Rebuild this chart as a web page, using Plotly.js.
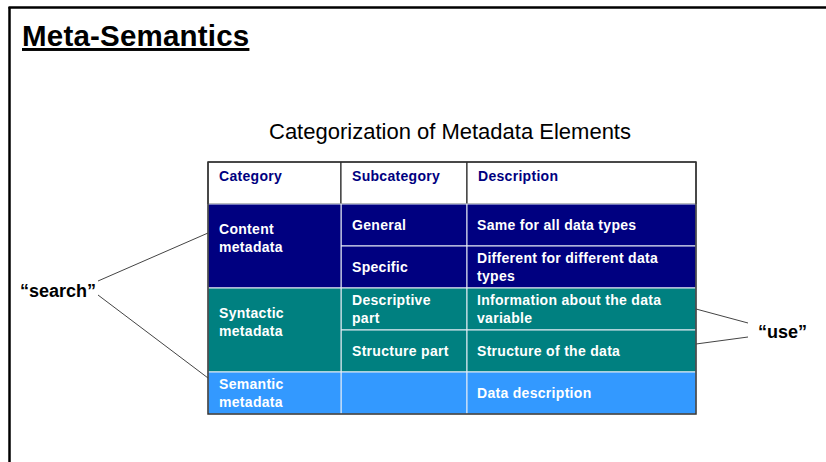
<!DOCTYPE html>
<html>
<head>
<meta charset="utf-8">
<script src="https://cdn.plot.ly/plotly-3.0.1.min.js"></script>
<style>
html,body{margin:0;padding:0;background:#fff;}
#chart{width:826px;height:462px;}
text.annotation-text[style*="font-size: 14px"]{letter-spacing:0.3px;}
text.annotation-text[style*="font-size: 29.5px"]{letter-spacing:0.2px;}
</style>
</head>
<body>
<div id="chart"></div>
<script>
// ---- data ----
const slideTitle = "Meta-Semantics";
const tableTitle = "Categorization of Metadata Elements";
const headers = ["Category", "Subcategory", "Description"];
const categories = ["Content<br>metadata", "Syntactic<br>metadata", "Semantic<br>metadata"];
const categoryRowSpan = [2, 2, 1];
const subcategories = ["General", "Specific", "Descriptive<br>part", "Structure part", ""];
const descriptions = [
  "Same for all data types",
  "Different for different data<br>types",
  "Information about the data<br>variable",
  "Structure of the data",
  "Data description"
];
const searchLabel = "“search”";
const searchTargets = [0, 2];   // category indices
const useLabel = "“use”";
const useTargets = [2, 3];      // row indices

// ---- layout / style ----
const FONT = "Liberation Sans, Arial, sans-serif";
const categoryColors = ["#000080", "#008080", "#3399FF"];
const colX = [208, 341, 467, 696];
const tableTop = 162, headerH = 42, rowH = 42;
const rowTop = i => tableTop + headerH + i * rowH;
const nRows = descriptions.length;
const tableBottom = rowTop(nRows);

const shapes = [];
const annotations = [];

// slide frame
shapes.push({type:'line', x0:8.5, x1:826, y0:7.5, y1:7.5, line:{color:'#000', width:2.5}});
shapes.push({type:'line', x0:9.5, x1:9.5, y0:7, y1:462, line:{color:'#000', width:2.5}});

// header cells
for (let c = 0; c < 3; c++) {
  shapes.push({type:'rect', x0:colX[c], x1:colX[c+1], y0:tableTop, y1:tableTop+headerH,
    fillcolor:'#fff', line:{color:'#111', width:1}});
  annotations.push({x:colX[c] + 9, y:tableTop + 14, text:'<b>' + headers[c] + '</b>',
    xanchor:'left', yanchor:'middle', showarrow:false,
    font:{family:FONT, size:14, color:'#000080'}});
}

// row -> category color
const rowCat = [];
categoryRowSpan.forEach((s, ci) => { for (let k = 0; k < s; k++) rowCat.push(ci); });

// body cells: subcategory & description per row
for (let r = 0; r < nRows; r++) {
  const col = categoryColors[rowCat[r]];
  for (let c = 1; c < 3; c++) {
    shapes.push({type:'rect', x0:colX[c], x1:colX[c+1], y0:rowTop(r), y1:rowTop(r+1),
      fillcolor:col, line:{color:'#e8eef6', width:1}});
  }
  const cy = rowTop(r) + rowH / 2;
  if (subcategories[r]) {
    annotations.push({x:colX[1] + 9, y:cy, text:'<b>' + subcategories[r] + '</b>',
      xanchor:'left', yanchor:'middle', showarrow:false, align:'left',
      font:{family:FONT, size:14, color:'#fff'}});
  }
  annotations.push({x:colX[2] + 8, y:cy, text:'<b>' + descriptions[r] + '</b>',
    xanchor:'left', yanchor:'middle', showarrow:false, align:'left',
    font:{family:FONT, size:14, color:'#fff'}});
}

// category cells (merged)
let startRow = 0;
const catTop = [], catBottom = [];
categories.forEach((cat, ci) => {
  const y0 = rowTop(startRow), y1 = rowTop(startRow + categoryRowSpan[ci]);
  catTop.push(y0); catBottom.push(y1);
  shapes.push({type:'rect', x0:colX[0], x1:colX[1], y0:y0, y1:y1,
    fillcolor:categoryColors[ci], line:{color:'#e8eef6', width:1}});
  const shift = categoryRowSpan[ci] > 1 ? -8 : 0;
  annotations.push({x:colX[0] + 9, y:(y0 + y1) / 2 + shift, text:'<b>' + cat + '</b>',
    xanchor:'left', yanchor:'middle', showarrow:false, align:'left',
    font:{family:FONT, size:14, color:'#fff'}});
  startRow += categoryRowSpan[ci];
});

// outer border of the table
shapes.push({type:'rect', x0:colX[0], x1:colX[3], y0:tableTop, y1:tableBottom,
  line:{color:'#333', width:1.5}});

// titles
annotations.push({x:20, y:35, text:'<b><u>' + slideTitle + '</u></b>', xanchor:'left', yanchor:'middle',
  showarrow:false, font:{family:FONT, size:29.5, color:'#000'}});
annotations.push({x:449.5, y:131, text:tableTitle, xanchor:'center', yanchor:'middle',
  showarrow:false, font:{family:FONT, size:22, color:'#000'}});

// "search" label and connectors
annotations.push({x:18, y:291, text:'<b>' + searchLabel + '</b>', xanchor:'left', yanchor:'middle',
  showarrow:false, font:{family:FONT, size:18, color:'#000'}});
const searchEnds = [catTop[searchTargets[0]] + 29, catTop[searchTargets[1]] + 6];
shapes.push({type:'line', x0:98, y0:281, x1:colX[0], y1:searchEnds[0], line:{color:'#444', width:1}});
shapes.push({type:'line', x0:98, y0:295, x1:colX[0], y1:searchEnds[1], line:{color:'#444', width:1}});

// "use" label and connectors
annotations.push({x:756, y:332, text:'<b>' + useLabel + '</b>', xanchor:'left', yanchor:'middle',
  showarrow:false, font:{family:FONT, size:18, color:'#000'}});
shapes.push({type:'line', x0:colX[3], y0:rowTop(useTargets[0]) + 21, x1:748, y1:323, line:{color:'#444', width:1}});
shapes.push({type:'line', x0:colX[3], y0:rowTop(useTargets[1]) + 14, x1:748, y1:337, line:{color:'#444', width:1}});

const layout = {
  width:826, height:462,
  margin:{l:0, r:0, t:0, b:0},
  paper_bgcolor:'#fff', plot_bgcolor:'#fff',
  xaxis:{range:[0, 826], visible:false, fixedrange:true},
  yaxis:{range:[462, 0], visible:false, fixedrange:true},
  showlegend:false,
  shapes:shapes,
  annotations:annotations
};

Plotly.newPlot('chart', [{type:'scatter', x:[], y:[], mode:'markers', hoverinfo:'skip'}], layout,
  {staticPlot:true, displayModeBar:false});
</script>
</body>
</html>
